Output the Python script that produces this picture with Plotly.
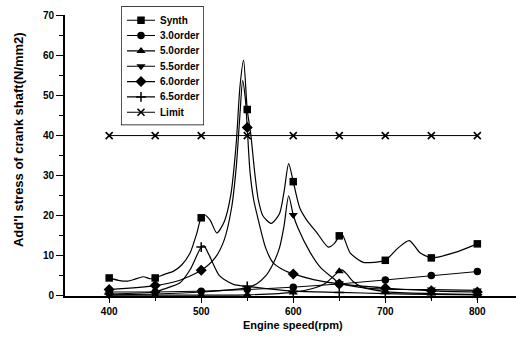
import plotly.graph_objects as go

# ---------------- data ----------------
MARK_RPM = [400, 450, 500, 550, 600, 650, 700, 750, 800]

# resonance curves (engine speed, additional stress N/mm2)
SYNTH_RPM = [400, 410, 420, 428, 437, 445, 450, 460, 470, 479, 488, 495, 500, 504, 510, 517,
             525, 532, 538, 542, 546, 550, 554, 558, 562, 567, 576, 585, 590, 595, 600, 607,
             615, 625, 638, 645, 650, 653, 662, 676, 688, 700, 714, 726, 738, 745, 750, 775, 800]
SYNTH = [4.5, 3.9, 3.7, 4.2, 4.8, 4.3, 4.5, 5.4, 6.2, 7.8, 10.8, 15.5, 19.5, 20.2, 18.8, 15.7,
         18.5, 25.0, 38.0, 52.0, 58.8, 46.5, 40.0, 31.0, 24.0, 20.0, 18.1, 20.5, 26.0, 33.0, 28.5, 22.0,
         18.8, 16.0, 12.2, 13.2, 15.0, 15.4, 10.7, 8.4, 8.4, 8.9, 12.0, 13.8, 10.7, 9.9, 9.5, 10.8, 13.0]

ORD30 = [1.0, 1.0, 1.2, 1.6, 2.2, 3.0, 4.0, 5.1, 6.1]

ORD50_RPM = [400, 450, 500, 550, 600, 620, 635, 645, 650, 653, 658, 665, 675, 700, 750, 800]
ORD50 = [0.2, 0.2, 0.2, 0.3, 0.9, 1.8, 3.2, 5.2, 6.2, 6.5, 5.5, 3.6, 2.2, 1.1, 0.6, 0.4]

ORD55_RPM = [400, 450, 500, 550, 560, 570, 578, 585, 590, 595, 600, 605, 618, 630, 643, 650,
             675, 700, 750, 800]
ORD55 = [0.3, 0.5, 1.0, 2.1, 3.0, 5.0, 8.0, 12.0, 17.5, 25.0, 20.2, 17.0, 11.0, 7.0, 4.5, 3.2,
         2.1, 1.7, 1.6, 1.4]

ORD60_RPM = [400, 450, 475, 500, 515, 525, 533, 538, 542, 545, 548, 550, 553, 557, 562, 570,
             578, 590, 600, 622, 650, 700, 750, 800]
ORD60 = [1.6, 2.6, 3.8, 6.4, 9.5, 14.0, 22.0, 32.0, 45.0, 53.7, 49.0, 42.0, 31.0, 24.0, 19.0, 12.0,
         8.3, 6.4, 5.5, 4.1, 3.0, 2.0, 1.3, 1.0]

ORD65_RPM = [400, 450, 459, 477, 488, 500, 503, 509, 520, 535, 550, 600, 650, 700, 750, 800]
ORD65 = [0.5, 1.0, 1.7, 3.3, 6.6, 12.2, 12.5, 10.0, 5.0, 2.9, 2.4, 1.2, 0.9, 0.6, 0.4, 0.3]

LIMIT = [40, 40, 40, 40, 40, 40, 40, 40, 40]

X_TICKS = [400, 500, 600, 700, 800]
Y_TICKS = [0, 10, 20, 30, 40, 50, 60, 70]

# ---------------- styling ----------------
BLACK = "black"
TICK_FONT = dict(family="Liberation Sans, Arial, sans-serif", size=10, color=BLACK, weight="bold")

# canvas geometry (pixels)
W, H = 516, 346
ML, MR, MT, MB = 65, 0, 4, 50
PW, PH = W - ML - MR, H - MT - MB
PLOT_TOP_PX = 13.3  # top of the value axis (y = 70)


def px_x(px):
    return (px - ML) / PW


def px_y(py):
    return (H - MB - py) / PH


def at(rpm_list, vals, rpm):
    return vals[rpm_list.index(rpm)]


fig = go.Figure()

series = [
    ("Synth", SYNTH_RPM, SYNTH, dict(symbol="square", size=7.5)),
    ("3.0order", MARK_RPM, ORD30, dict(symbol="circle", size=7.5)),
    ("5.0order", ORD50_RPM, ORD50, dict(symbol="triangle-up", size=8)),
    ("5.5order", ORD55_RPM, ORD55, dict(symbol="triangle-down", size=8)),
    ("6.0order", ORD60_RPM, ORD60, dict(symbol="diamond", size=8.5)),
    ("6.5order", ORD65_RPM, ORD65, dict(symbol="cross-thin", size=7, line=dict(width=1.5, color=BLACK))),
    ("Limit", MARK_RPM, LIMIT, dict(symbol="x-thin", size=7, line=dict(width=1.6, color=BLACK))),
]

for name, rpm, vals, mk in series:
    straight = rpm is MARK_RPM
    fig.add_trace(go.Scatter(
        x=rpm, y=vals, mode="lines", name=name, showlegend=False,
        line=dict(color=BLACK, width=1.0 if straight else 1.2,
                  shape="linear" if straight else "spline", smoothing=0.7),
        cliponaxis=False, hoverinfo="skip",
    ))
    fig.add_trace(go.Scatter(
        x=MARK_RPM, y=[at(rpm, vals, r) for r in MARK_RPM], mode="markers",
        name=name, showlegend=False, cliponaxis=False,
        marker=dict(color=BLACK, **mk),
    ))

# ---------------- legend box (drawn in an inset axis, pixel units) ----------------
BOX_L, BOX_R, BOX_T, BOX_B = 121.7, 203.3, 5.0, 123.3
ROW0, ROW_STEP = 13.3, 15.45
SAMPLE_X0, SAMPLE_X1, SAMPLE_MID, TEXT_X = 5.3, 33.3, 19.3, 36.5

for i, (name, _, _, mk) in enumerate(series):
    row = ROW0 + i * ROW_STEP
    fig.add_trace(go.Scatter(
        x=[SAMPLE_X0, SAMPLE_X1], y=[row, row], mode="lines", xaxis="x2", yaxis="y2",
        showlegend=False, line=dict(color=BLACK, width=1.1), hoverinfo="skip",
    ))
    fig.add_trace(go.Scatter(
        x=[SAMPLE_MID], y=[row], mode="markers", xaxis="x2", yaxis="y2",
        showlegend=False, marker=dict(color=BLACK, **mk), hoverinfo="skip",
    ))
    fig.add_annotation(
        x=TEXT_X, y=row, xref="x2", yref="y2", text=name, showarrow=False,
        xanchor="left", yanchor="middle",
        font=dict(family="Liberation Sans, Arial, sans-serif", size=10, color=BLACK, weight="bold"),
    )

fig.add_shape(
    type="rect", xref="paper", yref="paper",
    x0=px_x(BOX_L), x1=px_x(BOX_R), y0=px_y(BOX_B), y1=px_y(BOX_T),
    line=dict(color=BLACK, width=1.3), fillcolor="white", layer="below",
)

# ---------------- axis titles ----------------
fig.add_annotation(
    x=px_x(293), y=px_y(325), xref="paper", yref="paper", text="Engine speed(rpm)",
    showarrow=False, xanchor="center", yanchor="middle",
    font=dict(family="Liberation Sans, Arial, sans-serif", size=11, color=BLACK, weight="bold"),
)
fig.add_annotation(
    x=px_x(18), y=px_y(139), xref="paper", yref="paper",
    text="Add'l stress of crank shaft(N/mm2)", textangle=-90,
    showarrow=False, xanchor="center", yanchor="middle",
    font=dict(family="Liberation Sans, Arial, sans-serif", size=13, color=BLACK, weight="bold"),
)

fig.update_layout(
    width=W, height=H,
    margin=dict(l=ML, r=MR, t=MT, b=MB),
    paper_bgcolor="white", plot_bgcolor="white",
    showlegend=False,
    xaxis=dict(
        range=[352, 842], tickvals=X_TICKS, ticks="outside", ticklen=5, tickwidth=1.2,
        tickcolor=BLACK, showline=True, linecolor=BLACK, linewidth=2, showgrid=False,
        zeroline=False, tickfont=TICK_FONT,
        minor=dict(dtick=50, tick0=0, ticks="outside", ticklen=3, tickcolor=BLACK, showgrid=False),
    ),
    yaxis=dict(
        range=[0, 70], domain=[0, px_y(PLOT_TOP_PX)], tickvals=Y_TICKS, ticks="outside",
        ticklen=7, tickwidth=1.2, tickcolor=BLACK, showline=True, linecolor=BLACK, linewidth=2,
        showgrid=False, zeroline=False, tickfont=TICK_FONT,
        minor=dict(dtick=5, tick0=0, ticks="outside", ticklen=4, tickcolor=BLACK, showgrid=False),
    ),
    xaxis2=dict(domain=[px_x(BOX_L), px_x(BOX_R)], range=[0, BOX_R - BOX_L], visible=False,
                anchor="y2", fixedrange=True),
    yaxis2=dict(domain=[px_y(BOX_B), px_y(BOX_T)], range=[BOX_B - BOX_T, 0], visible=False,
                anchor="x2", fixedrange=True),
)

fig.write_html("out.html")
